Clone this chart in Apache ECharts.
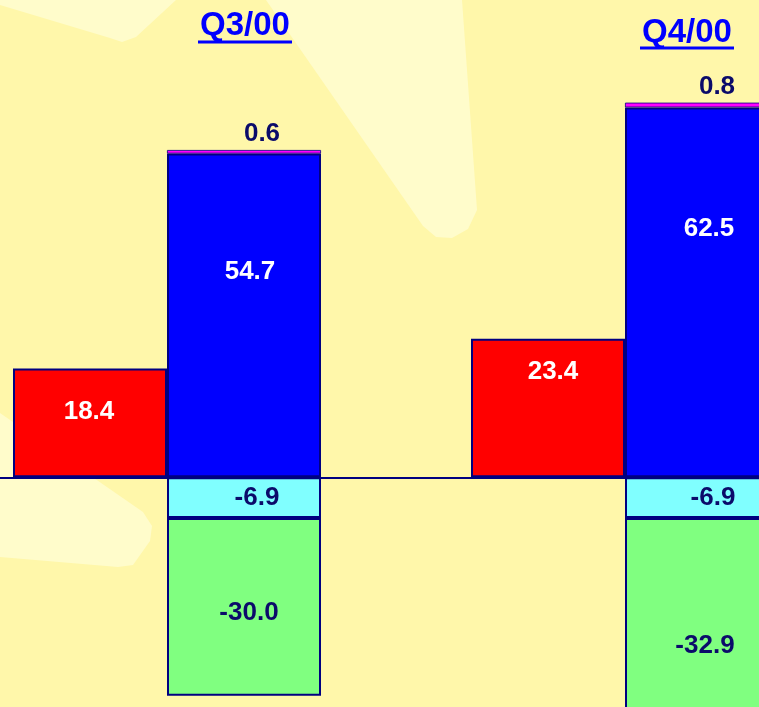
<!DOCTYPE html>
<html>
<head>
<meta charset="utf-8">
<script src="https://cdn.jsdelivr.net/npm/echarts@6/dist/echarts.min.js"></script>
<style>
html,body{margin:0;padding:0;background:#FFF7AA;}
#chart{width:759px;height:707px;}
</style>
</head>
<body>
<div id="chart"></div>
<script>
// ---- data ----
const categories = ['Q3/00', 'Q4/00'];
const redValues = [18.4, 23.4];
const blueValues = [54.7, 62.5];
const magentaValues = [0.6, 0.8];
const cyanValues = [-6.9, -6.9];
const greenValues = [-30.0, -32.9];

// ---- styling / layout ----
const NAVY = '#000080';
const LABEL_DARK = '#0B0B6A';
const FONT = 'Liberation Sans, Arial, sans-serif';

// label centres relative to each bar's top-left corner
const labelPos = {
  red: [[76, 43], [82, 33]],
  blue: [[83, 118], [84, 121]],
  magenta: [[95, -16], [92, -16]],
  cyan: [[90, 21], [88, 21]],
  green: [[82, 95], [80, 128]]
};

function makeSeries(name, values, color, stack, labelColor, posKey, borderW) {
  return {
    name: name,
    type: 'bar',
    stack: stack,
    barWidth: 154,
    barGap: '0%',
    data: values.map((v, i) => ({ value: v, label: { position: labelPos[posKey][i] } })),
    itemStyle: { color: color, borderColor: NAVY, borderWidth: borderW },
    label: {
      show: true,
      color: labelColor,
      fontFamily: FONT,
      fontWeight: 'bold',
      fontSize: 26,
      align: 'center',
      verticalAlign: 'middle',
      formatter: p => p.value.toFixed(1)
    }
  };
}

const chart = echarts.init(document.getElementById('chart'), null, { renderer: 'canvas' });

const headerPos = [[245, 26, 198, 292, 42], [687, 33, 640, 734, 48]];
const graphics = [
  // background star rays
  { type: 'polygon', z: -10, shape: { points: [[0,0],[0,5],[110,38],[122,42],[136,37],[176,0]] }, style: { fill: '#FFFCCB' } },
  { type: 'polygon', z: -10, shape: { points: [[266,0],[423,226],[436,237],[452,238],[468,229],[477,210],[462,0]] }, style: { fill: '#FFFCCB' } },
  { type: 'polygon', z: -10, shape: { points: [[0,413],[143,512],[152,526],[150,541],[133,565],[118,567],[0,557]] }, style: { fill: '#FFFCCB' } }
];
categories.forEach((c, i) => {
  const h = headerPos[i];
  graphics.push({
    type: 'text', z: 100, x: h[0], y: h[1],
    style: { text: c, fill: '#0000FF', font: 'bold 33px ' + FONT, textAlign: 'center', textVerticalAlign: 'middle' }
  });
  graphics.push({
    type: 'line', z: 100,
    shape: { x1: h[2], y1: h[4], x2: h[3], y2: h[4] },
    style: { stroke: '#0000FF', lineWidth: 3 }
  });
});

chart.setOption({
  backgroundColor: '#FFF7AA',
  animation: false,
  graphic: { elements: graphics },
  grid: { left: -62, right: -95, top: 63, bottom: -7, outerBoundsMode: 'none', containLabel: false },
  xAxis: {
    type: 'category',
    data: categories,
    axisLine: { show: true, onZero: true, lineStyle: { color: NAVY, width: 2 } },
    axisTick: { show: false },
    axisLabel: { show: false },
    splitLine: { show: false }
  },
  yAxis: {
    type: 'value',
    min: -40,
    max: 70,
    show: false,
    splitLine: { show: false }
  },
  series: [
    makeSeries('red', redValues, '#FF0000', 'r', '#FFFFFF', 'red', 2),
    makeSeries('blue', blueValues, '#0000FF', 's', '#FFFFFF', 'blue', 2),
    makeSeries('magenta', magentaValues, '#FF00FF', 's', LABEL_DARK, 'magenta', 0.8),
    makeSeries('cyan', cyanValues, '#80FFFF', 's', LABEL_DARK, 'cyan', 2),
    makeSeries('green', greenValues, '#80FF80', 's', LABEL_DARK, 'green', 2)
  ]
});
</script>
</body>
</html>
